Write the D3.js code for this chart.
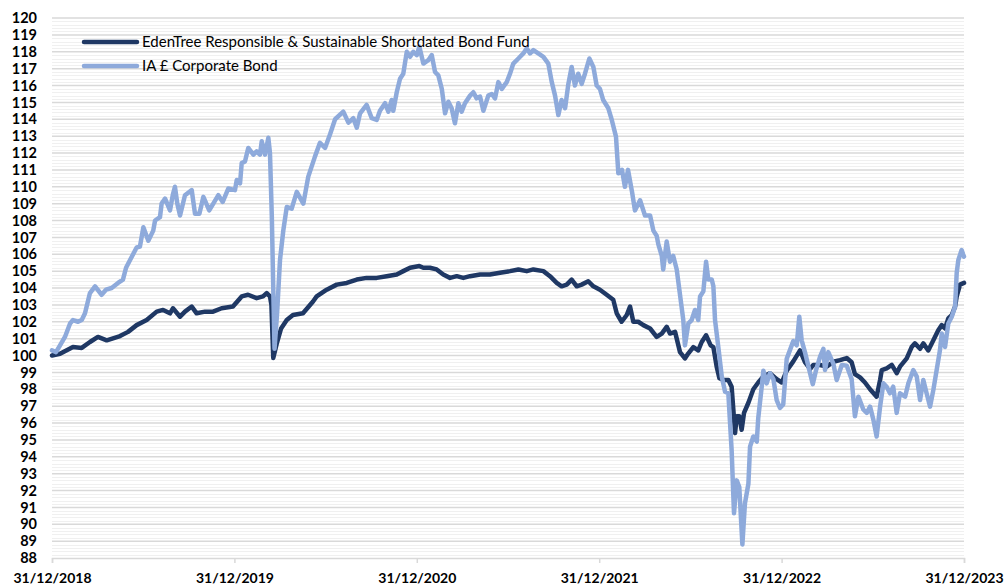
<!DOCTYPE html>
<html><head><meta charset="utf-8">
<script src="https://cdn.jsdelivr.net/npm/d3@7"></script>
<style>body{margin:0;background:#fff}svg{display:block}</style>
</head><body>
<svg id="c" width="1004" height="585"></svg>
<script>
const seriesNames = ["EdenTree Responsible & Sustainable Shortdated Bond Fund", "IA £ Corporate Bond"];
const seriesColors = ["#1f3864", "#8eaadb"];
const xTickValues = [2019, 2020, 2021, 2022, 2023, 2024];
const xTickLabels = ["31/12/2018", "31/12/2019", "31/12/2020", "31/12/2021", "31/12/2022", "31/12/2023"];
const yMin = 88, yMax = 120;

// decimal years (2019.0 = 31/12/2018)
const fundTimes = [2019.000,2019.044,2019.115,2019.163,2019.208,2019.252,2019.300,2019.373,2019.417,2019.464,2019.519,2019.574,2019.609,2019.647,2019.663,2019.702,2019.729,2019.766,2019.793,2019.839,2019.883,2019.930,2019.992,2020.040,2020.075,2020.122,2020.157,2020.177,2020.195,2020.203,2020.213,2020.232,2020.256,2020.287,2020.321,2020.376,2020.431,2020.451,2020.506,2020.561,2020.616,2020.671,2020.725,2020.780,2020.835,2020.890,2020.926,2020.963,2021.014,2021.036,2021.072,2021.109,2021.145,2021.182,2021.219,2021.255,2021.292,2021.347,2021.401,2021.456,2021.511,2021.557,2021.603,2021.639,2021.694,2021.730,2021.767,2021.794,2021.822,2021.849,2021.877,2021.904,2021.940,2021.968,2022.004,2022.041,2022.077,2022.096,2022.123,2022.151,2022.169,2022.187,2022.214,2022.242,2022.279,2022.315,2022.343,2022.370,2022.388,2022.416,2022.443,2022.470,2022.489,2022.516,2022.543,2022.562,2022.586,2022.611,2022.626,2022.644,2022.659,2022.680,2022.708,2022.726,2022.745,2022.754,2022.768,2022.781,2022.794,2022.818,2022.845,2022.872,2022.900,2022.936,2022.973,2023.001,2023.028,2023.064,2023.101,2023.128,2023.156,2023.174,2023.211,2023.247,2023.284,2023.320,2023.357,2023.384,2023.402,2023.430,2023.457,2023.485,2023.521,2023.540,2023.549,2023.576,2023.604,2023.631,2023.649,2023.686,2023.713,2023.731,2023.759,2023.777,2023.804,2023.832,2023.859,2023.878,2023.896,2023.914,2023.933,2023.951,2023.960,2023.978,2024.000];
const fundValues = [100.0,100.1,100.5,100.45,100.8,101.1,100.9,101.15,101.4,101.8,102.1,102.6,102.7,102.5,102.8,102.3,102.6,102.9,102.5,102.6,102.6,102.8,102.9,103.5,103.6,103.4,103.5,103.7,103.5,103.0,99.85,100.7,101.6,102.1,102.4,102.5,103.2,103.5,103.9,104.2,104.3,104.5,104.6,104.6,104.7,104.8,105.0,105.2,105.3,105.2,105.2,105.1,104.8,104.6,104.7,104.6,104.7,104.8,104.8,104.9,105.0,105.1,105.0,105.1,105.0,104.7,104.3,104.1,104.2,104.5,104.1,104.2,104.4,104.1,103.9,103.6,103.3,102.5,102.0,102.4,102.9,102.0,102.0,101.8,101.6,101.1,101.3,101.7,101.3,101.4,100.2,99.83,100.13,100.5,100.3,100.8,101.2,100.6,100.5,99.34,98.65,98.55,98.55,98.15,95.4,96.4,96.4,95.6,96.6,97.2,98.0,98.4,98.75,98.95,98.6,98.4,99.1,99.65,100.3,99.6,99.2,99.44,99.44,99.34,99.63,99.73,99.85,99.6,98.9,98.7,98.4,98.0,97.56,98.55,99.14,99.24,99.44,98.95,99.34,99.83,100.5,100.72,100.4,100.72,100.3,100.9,101.5,101.8,101.6,102.2,102.4,102.9,103.5,104.2,104.3];

const sectorTimes = [2019.000,2019.022,2019.044,2019.071,2019.099,2019.115,2019.143,2019.163,2019.181,2019.208,2019.236,2019.272,2019.296,2019.327,2019.362,2019.389,2019.406,2019.428,2019.464,2019.482,2019.501,2019.528,2019.555,2019.565,2019.592,2019.601,2019.620,2019.647,2019.662,2019.674,2019.687,2019.702,2019.729,2019.766,2019.784,2019.808,2019.830,2019.862,2019.912,2019.936,2019.967,2020.003,2020.013,2020.031,2020.040,2020.058,2020.076,2020.104,2020.122,2020.140,2020.150,2020.168,2020.186,2020.195,2020.205,2020.213,2020.220,2020.234,2020.250,2020.268,2020.287,2020.314,2020.342,2020.378,2020.405,2020.442,2020.469,2020.497,2020.524,2020.552,2020.597,2020.625,2020.652,2020.671,2020.689,2020.725,2020.753,2020.780,2020.798,2020.826,2020.844,2020.862,2020.871,2020.890,2020.908,2020.926,2020.945,2020.963,2020.981,2021.000,2021.014,2021.036,2021.063,2021.082,2021.100,2021.118,2021.137,2021.155,2021.173,2021.191,2021.209,2021.228,2021.246,2021.264,2021.292,2021.310,2021.328,2021.347,2021.365,2021.392,2021.411,2021.429,2021.447,2021.466,2021.493,2021.511,2021.529,2021.557,2021.584,2021.603,2021.621,2021.639,2021.666,2021.694,2021.721,2021.740,2021.758,2021.776,2021.794,2021.813,2021.831,2021.849,2021.867,2021.885,2021.904,2021.922,2021.946,2021.968,2021.986,2022.004,2022.022,2022.050,2022.069,2022.092,2022.105,2022.125,2022.141,2022.158,2022.180,2022.196,2022.224,2022.251,2022.279,2022.297,2022.315,2022.324,2022.343,2022.351,2022.370,2022.388,2022.406,2022.425,2022.443,2022.461,2022.470,2022.489,2022.507,2022.525,2022.543,2022.553,2022.571,2022.586,2022.598,2022.617,2022.626,2022.635,2022.653,2022.672,2022.690,2022.708,2022.726,2022.739,2022.754,2022.768,2022.785,2022.799,2022.818,2022.827,2022.845,2022.864,2022.872,2022.891,2022.900,2022.918,2022.936,2022.955,2022.973,2022.991,2023.009,2023.028,2023.064,2023.083,2023.097,2023.110,2023.128,2023.146,2023.171,2023.189,2023.211,2023.229,2023.238,2023.256,2023.284,2023.302,2023.330,2023.357,2023.384,2023.402,2023.421,2023.448,2023.467,2023.485,2023.503,2023.521,2023.540,2023.558,2023.576,2023.594,2023.612,2023.631,2023.649,2023.677,2023.695,2023.722,2023.741,2023.759,2023.777,2023.795,2023.814,2023.832,2023.850,2023.868,2023.878,2023.896,2023.914,2023.933,2023.951,2023.960,2023.969,2023.987,2023.995,2024.000];
const sectorValues = [100.3,100.2,100.6,101.1,101.9,102.1,102.0,102.1,102.5,103.7,104.1,103.6,103.9,104.0,104.3,104.5,105.2,105.66,106.4,106.45,107.6,106.8,107.4,108.0,108.2,109.0,109.3,108.6,109.5,110.0,109.0,108.3,109.5,109.8,108.4,108.4,109.4,108.6,109.5,109.1,109.9,109.8,110.4,110.2,111.4,111.5,112.3,111.9,112.1,111.9,112.7,111.9,112.9,112.0,108.3,104.0,100.4,102.5,105.66,107.4,108.8,108.7,109.7,109.0,110.6,111.8,112.6,112.3,113.1,114.0,114.45,113.8,114.06,113.5,114.35,114.85,114.06,113.96,114.5,114.95,114.45,115.14,114.5,115.6,116.4,116.7,118.0,117.7,118.0,117.8,118.3,117.3,117.5,117.8,116.8,116.6,115.8,114.35,115.04,114.65,113.76,114.95,114.45,114.95,115.4,115.6,115.24,115.34,114.5,115.4,115.5,115.24,116.2,115.8,116.2,116.7,117.3,117.6,117.9,118.2,117.9,118.1,117.9,117.7,117.3,116.2,115.4,114.25,115.14,114.65,116.1,117.1,116.0,116.7,116.1,116.7,117.6,117.1,116.0,115.8,115.14,114.65,113.96,112.97,110.8,111.0,110.0,111.0,109.7,108.6,109.2,108.3,108.3,107.4,107.1,106.6,105.9,105.1,106.75,105.56,105.9,105.1,103.6,102.1,100.6,101.9,102.1,102.7,102.1,103.5,103.8,105.56,104.5,104.5,104.1,102.1,100.5,98.75,97.85,97.76,94.4,90.65,92.6,92.2,88.8,91.24,92.4,94.6,95.2,94.9,96.3,98.15,99.1,98.35,98.95,98.6,97.36,96.9,97.1,99.8,100.85,100.6,102.3,100.9,100.2,99.4,98.3,99.14,99.93,100.4,99.14,100.2,99.5,98.55,99.44,99.4,98.6,96.4,97.56,96.8,96.6,96.97,96.2,95.2,96.97,98.35,98.15,97.76,98.15,96.6,97.76,97.56,98.35,99.14,98.75,97.36,98.55,97.76,96.97,97.96,99.14,100.3,101.3,100.5,101.9,102.3,102.9,104.9,105.66,106.25,106.0,105.86];

const svg = d3.select("#c");
const margin = {left: 52, right: 40, top: 18, bottom: 27};
const W = 1004, H = 585;
const x = d3.scaleLinear().domain([xTickValues[0], xTickValues[xTickValues.length - 1]]).range([margin.left, W - margin.right]);
const y = d3.scaleLinear().domain([yMin, yMax]).range([H - margin.bottom, margin.top]);

// minor gridlines
const minorTicks = d3.range(yMin, yMax + 0.001, 0.2).filter(v => Math.abs(v - Math.round(v)) > 0.01);
svg.append("g").selectAll("line").data(minorTicks).join("line")
  .attr("x1", x.range()[0]).attr("x2", x.range()[1])
  .attr("y1", d => Math.round(y(d)) + 0.5).attr("y2", d => Math.round(y(d)) + 0.5)
  .attr("stroke", "#f0f0f0").attr("stroke-width", 1);
// major gridlines
const majorTicks = d3.range(yMin + 1, yMax + 1, 1);
svg.append("g").selectAll("line").data(majorTicks).join("line")
  .attr("x1", x.range()[0]).attr("x2", x.range()[1])
  .attr("y1", d => y(d)).attr("y2", d => y(d))
  .attr("stroke", "#d9d9d9").attr("stroke-width", 1.5);

// y axis labels
const yAxis = d3.axisLeft(y).tickValues(d3.range(yMin, yMax + 1, 1)).tickSize(0).tickPadding(15).tickFormat(d3.format("d"));
const gy = svg.append("g").attr("transform", `translate(${margin.left},0)`).call(yAxis);
gy.select(".domain").remove();
gy.selectAll("text").attr("font-family", "Lato, 'Liberation Sans', sans-serif").attr("font-weight", "bold").attr("font-size", 14.5).attr("fill", "#000");

// x axis
const xAxis = d3.axisBottom(x).tickValues(xTickValues).tickSize(5).tickPadding(10).tickFormat((d, i) => xTickLabels[i]);
const gx = svg.append("g").attr("transform", `translate(0,${y(yMin)})`).call(xAxis);
gx.select(".domain").attr("stroke", "#d9d9d9").attr("stroke-width", 1.5);
gx.selectAll(".tick line").attr("stroke", "#d9d9d9").attr("stroke-width", 1.5);
gx.selectAll("text").attr("font-family", "Lato, 'Liberation Sans', sans-serif").attr("font-weight", "bold").attr("font-size", 14).attr("fill", "#000");

// lines
const line = d3.line().x(d => x(d[0])).y(d => y(d[1])).curve(d3.curveLinear);
const series = [
  d3.zip(fundTimes, fundValues),
  d3.zip(sectorTimes, sectorValues)
];
series.forEach((s, i) => {
  svg.append("path").datum(s).attr("d", line)
    .attr("fill", "none").attr("stroke", seriesColors[i]).attr("stroke-width", 4.5)
    .attr("stroke-linejoin", "round").attr("stroke-linecap", "round");
});

// legend
const lg = svg.append("g");
seriesNames.forEach((name, i) => {
  const yy = 42 + i * 24;
  lg.append("line").attr("x1", 84).attr("x2", 137).attr("y1", yy).attr("y2", yy)
    .attr("stroke", seriesColors[i]).attr("stroke-width", 4.5).attr("stroke-linecap", "round");
  lg.append("text").attr("x", 142).attr("y", yy + 5).text(name)
    .attr("font-family", "Lato, 'Liberation Sans', sans-serif").attr("font-size", 15).attr("fill", "#000");
});
</script>
</body></html>
